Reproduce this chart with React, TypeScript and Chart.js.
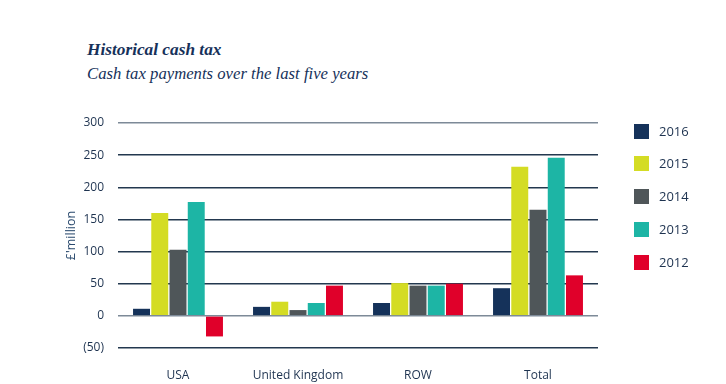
import React, { useEffect, useRef } from "react";
import { Chart, registerables } from "chart.js";

Chart.register(...registerables);

const categories = ["USA", "United Kingdom", "ROW", "Total"];
const seriesNames = ["2016", "2015", "2014", "2013", "2012"];
const values2016 = [11, 14, 20, 43];
const values2015 = [160, 22, 51, 232];
const values2014 = [103, 9, 47, 165];
const values2013 = [177, 20, 47, 246];
const values2012 = [-32, 47, 50, 63];
const seriesColors = ["#15325a", "#d4dc24", "#4f5659", "#1db5a5", "#e0002a"];
const yTicks = [-50, 0, 50, 100, 150, 200, 250, 300];

const NAVY = "#1e3350";

export default function App() {
  const ref = useRef<HTMLCanvasElement | null>(null);

  useEffect(() => {
    document.body.style.margin = "0";
    const allValues = [values2016, values2015, values2014, values2013, values2012];
    const chart = new Chart(ref.current!, {
      type: "bar",
      data: {
        labels: categories,
        datasets: seriesNames.map((name, i) => ({
          label: name,
          data: allValues[i],
          backgroundColor: seriesColors[i],
          borderWidth: 0,
          categoryPercentage: 0.76,
          barPercentage: 0.93,
        })),
      },
      options: {
        responsive: false,
        animation: false,
        layout: { padding: { top: 123, right: 128, bottom: 0, left: 64 } },
        plugins: { legend: { display: false }, tooltip: { enabled: false } },
        scales: {
          x: {
            grid: { display: false },
            border: { display: false },
            ticks: {
              color: NAVY,
              padding: 12,
              font: { family: "'Open Sans'", size: 12 },
            },
            afterFit: (s: any) => {
              s.height = 36;
            },
          },
          y: {
            min: -50,
            max: 300,
            afterBuildTicks: (s: any) => {
              s.ticks = yTicks.map((v) => ({ value: v }));
            },
            grid: {
              drawTicks: false,
              lineWidth: 1.5,
              color: (ctx: any) =>
                ctx.tick && (ctx.tick.value === 300 || ctx.tick.value === 0)
                  ? "#7d8a98"
                  : "#23384f",
            },
            border: { display: false },
            ticks: {
              color: NAVY,
              padding: 14,
              font: { family: "'Open Sans'", size: 12 },
              callback: (v: any) => (Number(v) < 0 ? `(${Math.abs(Number(v))})` : `${v}`),
            },
            title: {
              display: true,
              text: "£'million",
              color: "#2a4a6e",
              padding: 0,
              font: { family: "'Open Sans'", size: 12.5 },
            },
            afterFit: (s: any) => {
              s.width = 54;
            },
          },
        },
      },
    });
    return () => chart.destroy();
  }, []);

  const legendY = [131, 163, 196, 229, 262];

  return (
    <div style={{ position: "relative", width: 726, height: 384, background: "#fff" }}>
      <div
        style={{
          position: "absolute",
          left: 87,
          top: 40,
          fontFamily: "'Liberation Serif', serif",
          fontStyle: "italic",
          fontWeight: "bold",
          fontSize: 17.3,
          color: "#16315a",
          whiteSpace: "nowrap",
        }}
      >
        Historical cash tax
      </div>
      <div
        style={{
          position: "absolute",
          left: 87,
          top: 64,
          fontFamily: "'Liberation Serif', serif",
          fontStyle: "italic",
          fontSize: 16.7,
          color: "#16315a",
          whiteSpace: "nowrap",
        }}
      >
        Cash tax payments over the last five years
      </div>
      <canvas ref={ref} width={726} height={384} style={{ position: "absolute", left: 0, top: 0 }} />
      {seriesNames.map((name, i) => (
        <div key={name}>
          <div
            style={{
              position: "absolute",
              left: 634,
              top: legendY[i] - 7,
              width: 15,
              height: 15,
              background: seriesColors[i],
            }}
          />
          <div
            style={{
              position: "absolute",
              left: 659,
              top: legendY[i] - 9,
              fontFamily: "'Open Sans'",
              fontSize: 13,
              lineHeight: "18px",
              color: NAVY,
            }}
          >
            {name}
          </div>
        </div>
      ))}
    </div>
  );
}
